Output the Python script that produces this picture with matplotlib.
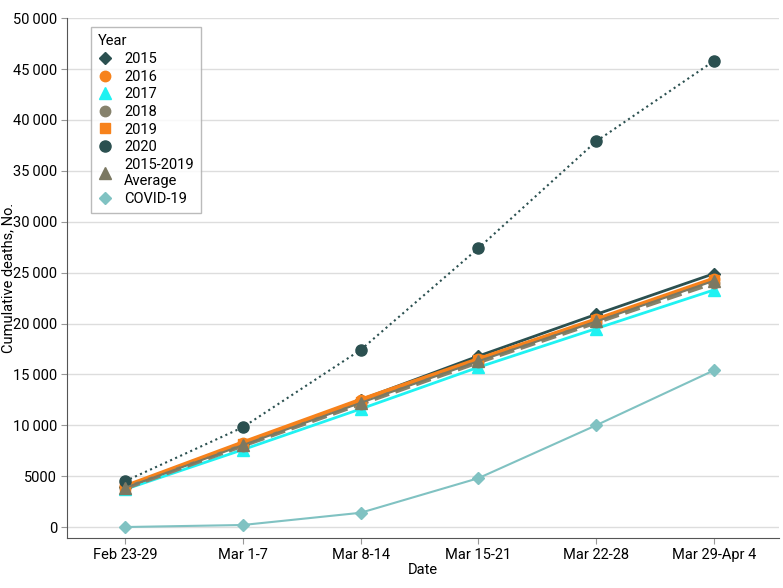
import numpy as np
import matplotlib.pyplot as plt

plt.rcParams['font.family'] = ['Roboto', 'DejaVu Sans']

dates = ['Feb 23-29', 'Mar 1-7', 'Mar 8-14', 'Mar 15-21', 'Mar 22-28', 'Mar 29-Apr 4']

y2015 = [3900, 8200, 12500, 16800, 20900, 24900]
y2016 = [4000, 8300, 12500, 16500, 20400, 24400]
y2017 = [3700, 7600, 11600, 15700, 19500, 23300]
y2018 = [3800, 8000, 12100, 16200, 20100, 24000]
y2019 = [3900, 8200, 12300, 16400, 20300, 24300]
y2020 = [4500, 9800, 17400, 27400, 37900, 45800]
avg = [3850, 8050, 12200, 16300, 20200, 24200]
covid = [0, 200, 1400, 4800, 10000, 15400]

teal = '#2b5050'
orange = '#f7821b'
cyan = '#1ff2f2'
gray = '#86826c'
avgc = '#7b7862'
covc = '#80c2c2'

x = np.arange(len(dates))

fig = plt.figure(figsize=(7.83, 5.88), dpi=100)
ax = fig.add_axes([0.0856, 0.085, 0.909, 0.884])

ax.plot(x, y2015, '-', color=teal, lw=2, marker='D', ms=6.5, label='2015', zorder=4)
ax.plot(x, y2016, '-', color=orange, lw=3, marker='o', ms=7.5, label='2016', zorder=4)
ax.plot(x, y2017, '-', color=cyan, lw=2, marker='^', ms=8, label='2017', zorder=3)
ax.plot(x, y2018, '--', color=gray, lw=3, marker='o', ms=7.5, label='2018', zorder=4)
ax.plot(x, y2019, '--', color=orange, lw=2, marker='s', ms=7.5, label='2019', zorder=4)
ax.plot(x, y2020, ':', color=teal, lw=1.5, marker='o', ms=8, label='2020', zorder=5)
ax.plot(x, avg, '-', color=avgc, lw=1.5, marker='^', ms=8, label='2015-2019\nAverage', zorder=5)
ax.plot(x, covid, '-', color=covc, lw=1.5, marker='D', ms=6.5, label='COVID-19', zorder=5)

ax.set_xlim(-0.492, 5.55)
ax.set_ylim(-1080, 50000)
ax.set_xticks(x)
ax.set_xticklabels(dates, fontsize=10.5)
yt = np.arange(0, 50001, 5000)
ax.set_yticks(yt)
ax.set_yticklabels([f'{v:,}'.replace(',', '\u2009') if v >= 10000 else str(v) for v in yt], fontsize=10.5)
ax.set_xlabel('Date', fontsize=10.5, labelpad=1)
ax.set_ylabel('Cumulative deaths, No.', fontsize=10.5)
ax.yaxis.set_label_coords(-0.073, 0.5)

ax.grid(axis='y', color='#dddddd', lw=1)
ax.set_axisbelow(True)
for s in ['top', 'right']:
    ax.spines[s].set_visible(False)
for s in ['left', 'bottom']:
    ax.spines[s].set_color('#555555')
ax.tick_params(length=4, color='#999999', pad=3)

leg = ax.legend(title='Year', loc='upper left', bbox_to_anchor=(0.033, 0.983),
                fontsize=10.5, title_fontsize=10.5, frameon=True, fancybox=False,
                handlelength=1, handletextpad=0.8, labelspacing=0.25, borderpad=0.5,
                borderaxespad=0)
leg._legend_box.align = 'left'
leg.get_frame().set_edgecolor('#aaaaaa')
for h in leg.legend_handles:
    h.set_linestyle('')

fig.savefig('out.png', dpi=100)
